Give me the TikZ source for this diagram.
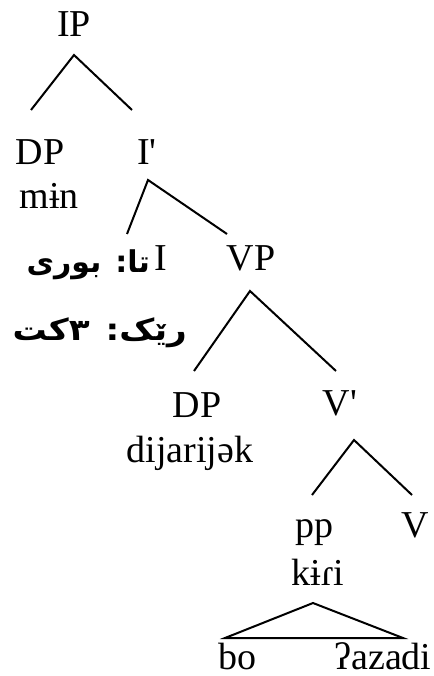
\documentclass[tikz,border=0pt]{standalone}
\usepackage{fontspec}
\setmainfont{Liberation Serif}[Ligatures=TeXOff]
\newfontfamily\arabicfont[Script=Arabic]{DejaVu Sans}
\TeXXeTstate=1
\begin{document}
\begin{tikzpicture}[x=1pt,y=1pt,
  lbl/.style={anchor=base,inner sep=0pt,font=\fontsize{38}{40}\selectfont},
  arlbl/.style={anchor=base east,inner sep=0pt,font=\arabicfont\bfseries\fontsize{30}{32}\selectfont},
  branch/.style={line width=2pt,line join=miter,line cap=butt}]
\useasboundingbox (0,0) rectangle (433,-676);
% labels
\node[lbl] (IP) at (74,-37) {IP};
\node[lbl] (DP1) at (40,-165) {DP};
\node[lbl] (min) at (49,-208) {mɨn};
\node[lbl] (Ibar) at (147,-165) {I'};
\node[lbl] (I) at (161,-270) {I};
\node[lbl] (VP) at (251,-270) {VP};
\node[arlbl] (ar1) at (150,-272) {\beginR تا: بوری\endR};
\node[arlbl] (ar2) at (187,-340) {\scalebox{1.14}[1]{\beginR رێک: ٣کت\endR}};
\node[lbl] (DP2) at (197,-417) {DP};
\node[lbl] (dij) at (190,-462) {dijarijək};
\node[lbl] (Vbar) at (340,-415) {V'};
\node[lbl] (pp) at (314,-537) {pp};
\node[lbl] (V) at (415,-537) {V};
\node[lbl] (kiri) at (318,-585) {kɨɾi};
\node[lbl] (bo) at (237,-669) {bo};
\node[lbl] (azadi) at (383,-669) {ʔazadi};
% branch points
\coordinate (IPt) at (74,-55);
\coordinate (IPl) at (31,-110);
\coordinate (IPr) at (132,-110);
\coordinate (Ibt) at (148,-180);
\coordinate (Ibl) at (127,-234);
\coordinate (Ibr) at (227,-234);
\coordinate (VPt) at (250,-291);
\coordinate (VPl) at (194,-371);
\coordinate (VPr) at (336,-371);
\coordinate (Vbt) at (354,-440);
\coordinate (Vbl) at (312,-495);
\coordinate (Vbr) at (412,-495);
\coordinate (ppt) at (313,-603);
\coordinate (ppl) at (225,-638);
\coordinate (ppr) at (403,-638);
% connectors
\draw[branch] (IPl) -- (IPt) -- (IPr);
\draw[branch] (Ibl) -- (Ibt) -- (Ibr);
\draw[branch] (VPl) -- (VPt) -- (VPr);
\draw[branch] (Vbl) -- (Vbt) -- (Vbr);
\draw[branch] (ppt) -- (ppl) -- (ppr) -- cycle;
\end{tikzpicture}
\end{document}
